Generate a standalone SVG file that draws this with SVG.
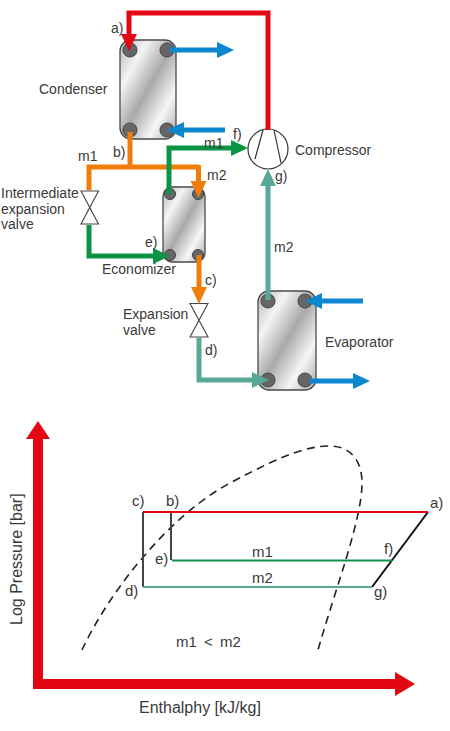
<svg xmlns="http://www.w3.org/2000/svg" width="450" height="731" viewBox="0 0 450 731">
<style>
text{font-family:"Liberation Sans",Arial,sans-serif;font-size:14px;fill:#3a3a3a}
.mid{font-size:15px}
.big{font-size:16px}
.hx{fill:url(#steel);stroke:#4a4a4a;stroke-width:1.3}
.port{fill:#666;stroke:#444;stroke-width:1}
.pipe{fill:none;stroke-width:5}
.valve{fill:#fff;stroke:#444;stroke-width:1.1}
.red{stroke:#e30613}.blue{stroke:#0a87cf}.org{stroke:#f07d0a}.grn{stroke:#0b9444}.teal{stroke:#58a897}
.cyc{fill:none;stroke-width:2}
</style>
<defs>
<linearGradient id="steel" x1="0" y1="0" x2="1" y2="1">
<stop offset="0" stop-color="#b5b5b5"/><stop offset=".25" stop-color="#f4f4f4"/><stop offset=".5" stop-color="#a9a9a9"/><stop offset=".75" stop-color="#f6f6f6"/><stop offset="1" stop-color="#a8a8a8"/>
</linearGradient>
<marker id="mr" markerUnits="userSpaceOnUse" markerWidth="18" markerHeight="16" refX="0" refY="8" orient="auto"><path d="M0,0L17,8L0,16z" fill="#e30613"/></marker>
<marker id="mb" markerUnits="userSpaceOnUse" markerWidth="18" markerHeight="16" refX="0" refY="8" orient="auto"><path d="M0,0L17,8L0,16z" fill="#0a87cf"/></marker>
<marker id="mo" markerUnits="userSpaceOnUse" markerWidth="18" markerHeight="16" refX="0" refY="8" orient="auto"><path d="M0,0L17,8L0,16z" fill="#f07d0a"/></marker>
<marker id="mg" markerUnits="userSpaceOnUse" markerWidth="18" markerHeight="16" refX="0" refY="8" orient="auto"><path d="M0,0L17,8L0,16z" fill="#0b9444"/></marker>
<marker id="mt" markerUnits="userSpaceOnUse" markerWidth="18" markerHeight="16" refX="0" refY="8" orient="auto"><path d="M0,0L17,8L0,16z" fill="#58a897"/></marker>
</defs>

<g id="condenser">
<rect class="hx" x="120" y="40" width="56" height="99" rx="11"/>
<circle class="port" cx="130" cy="50" r="7"/><circle class="port" cx="167" cy="50" r="7"/><circle class="port" cx="130" cy="130" r="7"/><circle class="port" cx="167" cy="130" r="7"/>
<text x="39" y="94">Condenser</text>
</g>
<g id="economizer">
<rect class="hx" x="163" y="187" width="42" height="75" rx="9"/>
<circle class="port" cx="170" cy="194" r="5.5"/><circle class="port" cx="198" cy="194" r="5.5"/><circle class="port" cx="170" cy="255" r="5.5"/><circle class="port" cx="198" cy="255" r="5.5"/>
<text x="102" y="274">Economizer</text>
</g>
<g id="evaporator">
<rect class="hx" x="258" y="291" width="58" height="99" rx="11"/>
<circle class="port" cx="268" cy="301" r="7"/><circle class="port" cx="305" cy="301" r="7"/><circle class="port" cx="268" cy="380" r="7"/><circle class="port" cx="305" cy="380" r="7"/>
<text x="325" y="347">Evaporator</text>
</g>
<g id="compressor">
<circle cx="268" cy="149" r="20" fill="#fff" stroke="#333" stroke-width="1.2"/>
<path d="M263,130L255,159M274,130L281,163" fill="none" stroke="#333" stroke-width="1.2"/>
<text x="295" y="155">Compressor</text>
</g>
<g id="intermediate-valve">
<path class="valve" d="M81,191H98.500L81,224H98.500z"/>
<text x="1" y="198">Intermediate</text><text x="1" y="214">expansion</text><text x="1" y="229">valve</text>
</g>
<g id="expansion-valve">
<path class="valve" d="M190,303.500H208L190,337H208z"/>
<text x="123" y="319">Expansion</text><text x="123" y="335">valve</text>
</g>

<g id="connectors">
<path class="pipe red" marker-end="url(#mr)" d="M268,130V13H129V34"/>
<path class="pipe blue" marker-end="url(#mb)" d="M170,50H217"/>
<path class="pipe blue" marker-end="url(#mb)" d="M225,130H184"/>
<path class="pipe org" d="M130,132V167M89,190V167H199"/>
<path class="pipe org" marker-end="url(#mo)" d="M198.500,165V181"/>
<path class="pipe grn" marker-end="url(#mg)" d="M169,194V148H231"/>
<path class="pipe grn" marker-end="url(#mg)" d="M89,225V256H153"/>
<path class="pipe org" marker-end="url(#mo)" d="M199,255V287"/>
<path class="pipe teal" marker-end="url(#mt)" d="M199,338V380H252"/>
<path class="pipe teal" marker-end="url(#mt)" d="M268,300V186"/>
<path class="pipe blue" marker-end="url(#mb)" d="M363,301H322"/>
<path class="pipe blue" marker-end="url(#mb)" d="M310,381H353"/>
</g>

<g id="state-labels">
<text x="111" y="33">a)</text><text x="113" y="157">b)</text><text x="78" y="161">m1</text><text x="207" y="180">m2</text>
<text x="233" y="139">f)</text><text x="204" y="148">m1</text><text x="275" y="181">g)</text><text x="145" y="247">e)</text>
<text x="205" y="285">c)</text><text x="274" y="252">m2</text><text x="205" y="355">d)</text>
</g>

<g id="chart">
<path d="M82,650C110,590 170,515 230,483C270,462 300,447 327,446C350,445 362,460 362,483C362,520 335,590 318,650" fill="none" stroke="#222" stroke-width="1.6" stroke-dasharray="8,5.500"/>
<path class="cyc" stroke="#444" d="M143,512V587M171,512V560"/>
<path class="cyc" stroke="#111" d="M428,512L372,587"/>
<path class="cyc red" d="M143,512H428"/>
<path class="cyc grn" d="M172,560.500H392"/>
<path class="cyc teal" d="M143,587H372"/>
<path d="M33,689V439H26L38,421L50,439H43V679H395V672L415,684L395,696V689z" fill="#e30613"/>
<g class="labels">
<text class="mid" x="132" y="506">c)</text><text class="mid" x="166" y="506">b)</text><text class="mid" x="430" y="508">a)</text>
<text class="mid" x="252" y="557">m1</text><text class="mid" x="384" y="554">f)</text><text class="mid" x="155" y="564">e)</text>
<text class="mid" x="252" y="583">m2</text><text class="mid" x="125" y="596">d)</text><text class="mid" x="374" y="597">g)</text>
<text class="mid" x="176" y="647" word-spacing="3">m1 &lt; m2</text>
</g>
<text class="big" x="139" y="713">Enthalphy [kJ/kg]</text>
<text class="big" transform="translate(22,625) rotate(-90)">Log Pressure [bar]</text>
</g>
</svg>
